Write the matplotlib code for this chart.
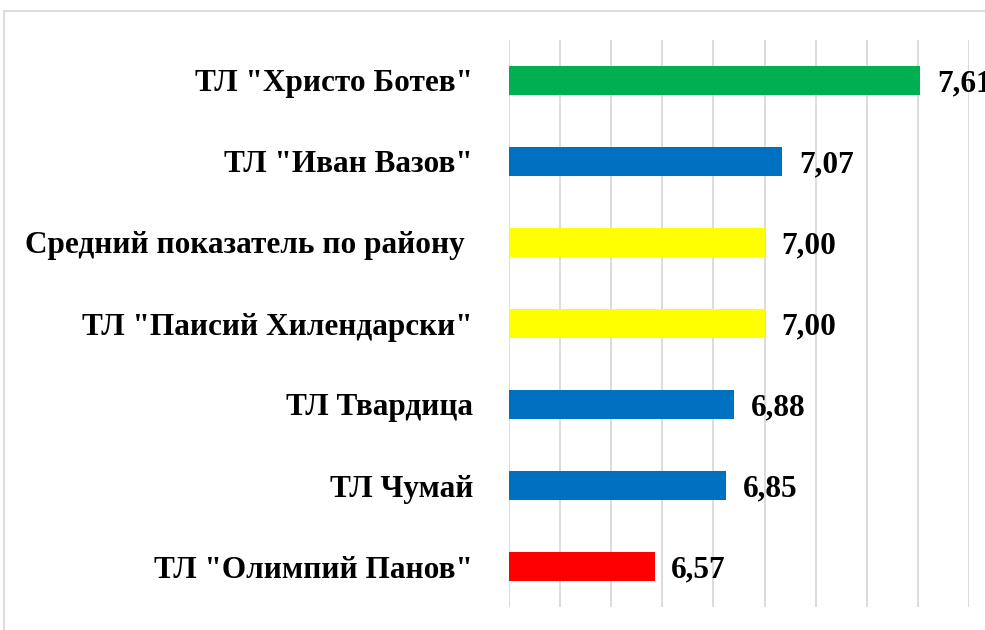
import matplotlib
matplotlib.use("Agg")
import matplotlib.pyplot as plt
from matplotlib.patches import Rectangle

labels = ['ТЛ "Христо Ботев"', 'ТЛ "Иван Вазов"', 'Средний показатель по району ',
          'ТЛ "Паисий Хилендарски"', 'ТЛ Твардица', 'ТЛ Чумай', 'ТЛ "Олимпий Панов"']
values = [7.61, 7.07, 7.00, 7.00, 6.88, 6.85, 6.57]
colors = ['#00b050', '#0070c0', '#ffff00', '#ffff00', '#0070c0', '#0070c0', '#ff0000']

plt.rcParams['font.family'] = ['Liberation Serif', 'DejaVu Serif']
plt.rcParams['font.weight'] = 'bold'

fig = plt.figure(figsize=(9.85, 6.3), dpi=100)
# light frame round the chart, cut by the image edge
fig.patches.append(Rectangle((4 / 985, -0.1), 1.1, (630 - 11) / 630 + 0.1,
                             transform=fig.transFigure, fill=False,
                             edgecolor='#d9d9d9', linewidth=1.3))

ax = fig.add_axes([509 / 985, 23 / 630, 460 / 985, 567 / 630])
base = 6.0
ypos = list(range(len(labels)))
ax.barh(ypos, [v - base for v in values], left=base, height=0.36,
        color=colors, zorder=3)

for y, v in zip(ypos, values):
    ax.text(v + 0.065, y, f"{v:.2f}".replace('.', ','), va='center_baseline',
            ha='left', fontsize=22.5, fontweight='bold', zorder=4, clip_on=False)

ax.set_xlim(6.0, 7.8)
ax.set_ylim(6.5, -0.5)
ax.set_xticks([6.0 + 0.2 * i for i in range(10)])
ax.set_xticklabels([])
ax.set_yticks(ypos)
ax.set_yticklabels(labels, fontsize=22.5, fontweight='bold')
ax.tick_params(axis='both', length=0)
ax.tick_params(axis='y', pad=26)
ax.grid(axis='x', color='#d9d9d9', linewidth=1.3, zorder=0)
for s in ax.spines.values():
    s.set_visible(False)

fig.savefig('out.png', dpi=100)
